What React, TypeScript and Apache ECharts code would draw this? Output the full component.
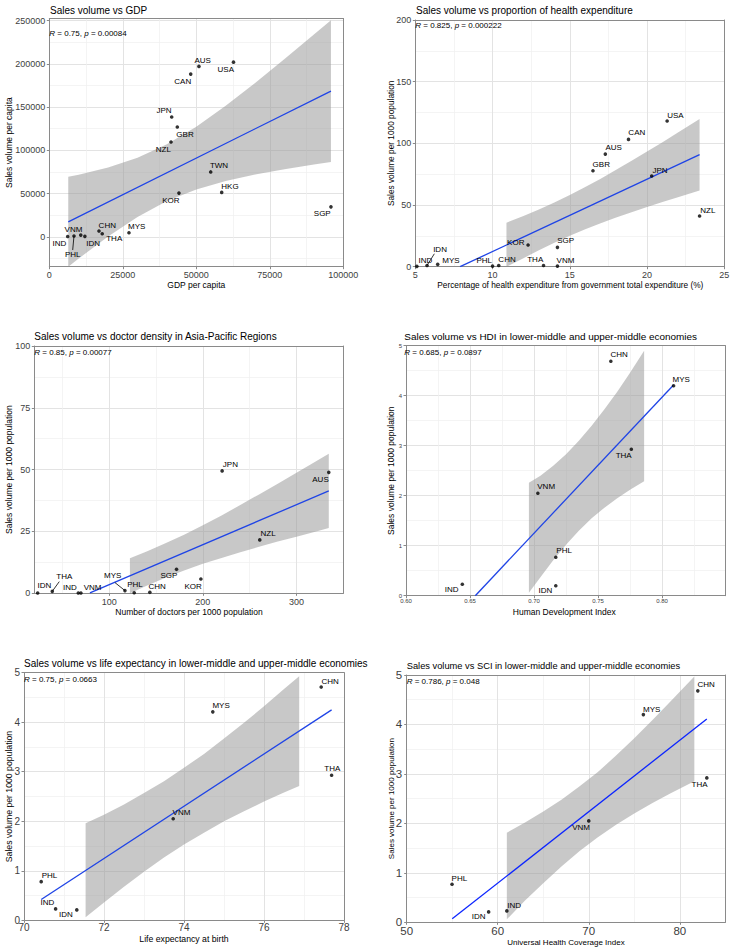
import React, { useEffect, useRef } from 'react';
import * as echarts from 'echarts';

const FONT = '"Liberation Sans", Arial, Helvetica, sans-serif';

// ---------- Panel 1: Sales volume vs GDP ----------
const p1Countries = ['AUS', 'USA', 'CAN', 'JPN', 'GBR', 'NZL', 'TWN', 'HKG', 'KOR', 'SGP', 'MYS', 'CHN', 'THA', 'IDN', 'IND', 'PHL', 'VNM'];
const p1Gdp = [50900, 62650, 48100, 41630, 43540, 41400, 54900, 58640, 44100, 95800, 27100, 16900, 18000, 12100, 6250, 8400, 10700];
const p1Sales = [197100, 202000, 188200, 138600, 127000, 109700, 75000, 51300, 50500, 34600, 4600, 6600, 3500, 500, 300, 900, 1900];
const p1FitX = [6450, 95800];
const p1FitY = [17300, 168600];
const p1BandX = [6450, 10000, 20000, 30000, 40000, 50000, 60000, 70000, 80000, 90000, 95800];
const p1BandLow = [-34700, -25200, 400, 23000, 41300, 54700, 64400, 71900, 78100, 83600, 86600];
const p1BandHigh = [69300, 71800, 80100, 91300, 106900, 127400, 151500, 178000, 205600, 234000, 250600];
const p1XTicks = [0, 25000, 50000, 75000, 100000];
const p1XMinor = [12500, 37500, 62500, 87500];
const p1YTicks = [0, 50000, 100000, 150000, 200000, 250000];
const p1YMinor = [-25000, 25000, 75000, 125000, 175000, 225000];

// ---------- Panel 2: Sales volume vs proportion of health expenditure ----------
const p2Countries = ['USA', 'CAN', 'AUS', 'GBR', 'JPN', 'NZL', 'SGP', 'KOR', 'IDN', 'IND', 'MYS', 'PHL', 'CHN', 'THA', 'VNM'];
const p2Share = [21.3, 18.8, 17.3, 16.5, 20.3, 23.4, 14.2, 12.3, 5.76, 5.1, 6.45, 10.0, 10.4, 13.3, 14.2];
const p2Sales = [118.1, 103.2, 91.3, 77.8, 73.5, 41.1, 15.7, 17.6, 1.0, 0.3, 1.9, 0.5, 1.0, 1.0, 0.5];
const p2FitX = [7.9, 23.4];
const p2FitY = [0, 90.8];
const p2BandX = [10.9, 12, 13, 14, 15, 16, 17, 18, 19, 20, 21, 22, 23.4];
const p2BandLow = [0, 6.9, 13.4, 19.4, 25.0, 30.3, 35.2, 39.9, 44.2, 48.5, 52.5, 56.4, 61.8];
const p2BandHigh = [35.7, 41.1, 46.4, 52.1, 58.2, 64.6, 71.4, 78.5, 85.8, 93.3, 100.9, 108.8, 119.8];
const p2XTicks = [5, 10, 15, 20, 25];
const p2XMinor = [7.5, 12.5, 17.5, 22.5];
const p2YTicks = [0, 50, 100, 150, 200];
const p2YMinor = [25, 75, 125, 175];

// ---------- Panel 3: Sales volume vs doctor density ----------
const p3Countries = ['JPN', 'AUS', 'NZL', 'SGP', 'KOR', 'CHN', 'PHL', 'MYS', 'VNM', 'IND', 'THA', 'IDN'];
const p3Doctors = [220.6, 334.5, 260.8, 171.9, 197.9, 143.4, 126.7, 116.8, 69.8, 67.0, 39.2, 23.6];
const p3Sales = [49.5, 48.9, 21.6, 9.7, 5.8, 0.4, 0.2, 1.1, 0.1, 0.1, 0.8, 0.1];
const p3FitX = [79.4, 334.5];
const p3FitY = [0.2, 41.4];
const p3BandX = [122.1, 140, 160, 180, 200, 220, 240, 260, 280, 300, 320, 334.5];
const p3BandLow = [0, 3.1, 6.3, 9.2, 11.9, 14.3, 16.6, 18.8, 20.9, 22.9, 24.9, 26.4];
const p3BandHigh = [14.2, 16.9, 20.2, 23.7, 27.5, 31.5, 35.7, 40.0, 44.3, 48.7, 53.2, 56.4];
const p3XTicks = [100, 200, 300];
const p3XMinor = [50, 150, 250];
const p3YTicks = [0, 25, 50, 75, 100];
const p3YMinor = [12.5, 37.5, 62.5, 87.5];

// ---------- Panel 4: Sales volume vs HDI ----------
const p4Countries = ['CHN', 'MYS', 'THA', 'VNM', 'PHL', 'IDN', 'IND'];
const p4Hdi = [0.760, 0.809, 0.776, 0.703, 0.717, 0.717, 0.644];
const p4Sales = [4.69, 4.20, 2.93, 2.05, 0.77, 0.20, 0.23];
const p4FitX = [0.6541, 0.8088];
const p4FitY = [0, 4.21];
const p4BandX = [0.696, 0.705, 0.715, 0.725, 0.735, 0.745, 0.755, 0.765, 0.775, 0.786];
const p4BandLow = [0.06, 0.37, 0.71, 1.02, 1.30, 1.55, 1.76, 1.95, 2.12, 2.29];
const p4BandHigh = [2.26, 2.40, 2.60, 2.83, 3.10, 3.40, 3.73, 4.08, 4.46, 4.90];
const p4XTicks = [0.6, 0.65, 0.7, 0.75, 0.8];
const p4XMinor = [0.625, 0.675, 0.725, 0.775, 0.825];
const yTicks05 = [0, 1, 2, 3, 4, 5];
const yMinor05 = [0.5, 1.5, 2.5, 3.5, 4.5];

// ---------- Panel 5: Sales volume vs life expectancy ----------
const p5Countries = ['CHN', 'MYS', 'THA', 'VNM', 'PHL', 'IND', 'IDN'];
const p5Life = [77.43, 74.72, 77.69, 73.73, 70.43, 70.79, 71.32];
const p5Sales = [4.71, 4.21, 2.93, 2.05, 0.78, 0.23, 0.21];
const p5FitX = [70.43, 77.69];
const p5FitY = [0.42, 4.25];
const p5BandX = [71.54, 72, 72.5, 73, 73.5, 74, 74.5, 75, 75.5, 76, 76.5, 76.88];
const p5BandLow = [0.06, 0.36, 0.68, 0.98, 1.27, 1.53, 1.77, 2.00, 2.20, 2.40, 2.58, 2.71];
const p5BandHigh = [1.96, 2.13, 2.34, 2.57, 2.81, 3.08, 3.36, 3.67, 3.99, 4.32, 4.67, 4.93];
const p5XTicks = [70, 72, 74, 76, 78];
const p5XMinor = [71, 73, 75, 77];

// ---------- Panel 6: Sales volume vs SCI ----------
const p6Countries = ['CHN', 'MYS', 'THA', 'VNM', 'PHL', 'IDN', 'IND'];
const p6Uhc = [81.98, 76.0, 82.97, 70.0, 54.98, 59.0, 61.0];
const p6Sales = [4.68, 4.20, 2.92, 2.05, 0.77, 0.21, 0.23];
const p6FitX = [55.0, 82.97];
const p6FitY = [0.07, 4.11];
const p6BandX = [61, 63, 65, 67, 69, 71, 73, 75, 77, 79, 81.6];
const p6BandLow = [0.06, 0.44, 0.79, 1.13, 1.44, 1.72, 1.97, 2.20, 2.41, 2.61, 2.85];
const p6BandHigh = [1.81, 2.02, 2.24, 2.48, 2.75, 3.04, 3.37, 3.72, 4.09, 4.47, 4.97];
const p6XTicks = [50, 60, 70, 80];
const p6XMinor = [55, 65, 75];

// ---------- Layout (pixels) ----------
const panels = [
  {
    title: 'Sales volume vs GDP', titlePos: [50, 10], titleSize: 10,
    r: '0.75', p: '0.00084', statPos: [49.3, 33], statSize: 8,
    xName: 'GDP per capita', xNamePos: [196.3, 285], yName: 'Sales volume per capita', yNameX: 9, nameSize: 8.5,
    grid: [49.3, 18.5, 294, 248.2], xr: [0, 100000], yr: [-34640, 252540],
    xTicks: p1XTicks, xMinor: p1XMinor, yTicks: p1YTicks, yMinor: p1YMinor,
    tickSize: 9, xMargin: 4, yMargin: 4, xFmt: (v: number) => String(v),
    countries: p1Countries, xs: p1Gdp, ys: p1Sales,
    offsets: [[3.7, -6], [-7.7, 7.7], [-8, 7], [-7.7, -6.7], [7.7, 7.3], [-7.7, 7.3], [8.3, -6.7], [8.3, -6.3], [-8, 7], [-8.7, 6.7], [7.7, -6], [8.3, -5.7], [12, 4.7], [8.3, 6.7], [-8.3, 6.7], [-1.3, 19], [-7.3, -6]],
    segments: { PHL: [-1.3, 14] } as Record<string, number[]>,
    fitX: p1FitX, fitY: p1FitY, bandX: p1BandX, bandLow: p1BandLow, bandHigh: p1BandHigh, lineColor: '#1f44e6',
  },
  {
    title: 'Sales volume vs proportion of health expenditure', titlePos: [416, 10], titleSize: 10,
    r: '0.825', p: '0.000222', statPos: [415.3, 25.7], statSize: 8,
    xName: 'Percentage of health expenditure from government total expenditure (%)', xNamePos: [570.3, 285],
    yName: 'Sales volume per 1000 population', yNameX: 391, nameSize: 8.3,
    grid: [415.3, 20, 309, 246.7], xr: [5, 25], yr: [0, 200],
    xTicks: p2XTicks, xMinor: p2XMinor, yTicks: p2YTicks, yMinor: p2YMinor,
    tickSize: 9, xMargin: 4, yMargin: 4, xFmt: (v: number) => String(v),
    countries: p2Countries, xs: p2Share, ys: p2Sales,
    offsets: [[8.3, -6], [8.3, -6.7], [8.3, -6.3], [8.3, -6.3], [8.3, -6], [8.3, -6], [8.3, -6.7], [-12.3, -2.7], [13, -16.3], [8.5, -6.3], [13.3, -4.3], [-8.3, -6], [8.3, -6], [-8.3, -6], [8, -6]],
    segments: { IDN: [7.3, -11.7] } as Record<string, number[]>,
    fitX: p2FitX, fitY: p2FitY, bandX: p2BandX, bandLow: p2BandLow, bandHigh: p2BandHigh, lineColor: '#1f44e6',
  },
  {
    title: 'Sales volume vs doctor density in Asia-Pacific Regions', titlePos: [34.3, 336], titleSize: 10,
    r: '0.85', p: '0.00077', statPos: [34.3, 352.3], statSize: 8,
    xName: 'Number of doctors per 1000 population', xNamePos: [189, 611.7],
    yName: 'Sales volume per 1000 population', yNameX: 9, nameSize: 8.5,
    grid: [34.3, 346, 309, 247.3], xr: [20, 350], yr: [0, 100],
    xTicks: p3XTicks, xMinor: p3XMinor, yTicks: p3YTicks, yMinor: p3YMinor,
    tickSize: 9, xMargin: 4, yMargin: 4, xFmt: (v: number) => String(v),
    countries: p3Countries, xs: p3Doctors, ys: p3Sales,
    offsets: [[8.3, -6], [-8.3, 7], [8.3, -6], [-7.7, 6.3], [-7.7, 7.7], [7.3, -5.7], [0.7, -8], [-12.3, -14.7], [11.7, -6], [-8.3, -6], [12, -15.3], [6.7, -7.3]],
    segments: { MYS: [-10, -8], THA: [7, -9.7] } as Record<string, number[]>,
    fitX: p3FitX, fitY: p3FitY, bandX: p3BandX, bandLow: p3BandLow, bandHigh: p3BandHigh, lineColor: '#1f44e6',
  },
  {
    title: 'Sales volume vs HDI in lower-middle and upper-middle economies', titlePos: [404.3, 336.5], titleSize: 9.95,
    r: '0.685', p: '0.0897', statPos: [404.3, 352.7], statSize: 8,
    xName: 'Human Development Index', xNamePos: [564.3, 612],
    yName: 'Sales volume per 1000 population', yNameX: 391, nameSize: 8.5,
    grid: [406, 345.7, 319.3, 250], xr: [0.6, 0.8494], yr: [0, 5],
    xTicks: p4XTicks, xMinor: p4XMinor, yTicks: yTicks05, yMinor: yMinor05,
    tickSize: 6, xMargin: 2.5, yMargin: 4, xFmt: (v: number) => v.toFixed(2),
    countries: p4Countries, xs: p4Hdi, ys: p4Sales,
    offsets: [[8.3, -6.7], [7.7, -6.3], [-7.7, 6.7], [8.3, -6.7], [8.3, -6.3], [-10.3, 4.3], [-10.7, 5.7]],
    segments: {} as Record<string, number[]>,
    fitX: p4FitX, fitY: p4FitY, bandX: p4BandX, bandLow: p4BandLow, bandHigh: p4BandHigh, lineColor: '#1f44e6',
  },
  {
    title: 'Sales volume vs life expectancy in lower-middle and upper-middle economies', titlePos: [24, 663], titleSize: 10,
    r: '0.75', p: '0.0663', statPos: [24, 679], statSize: 8,
    xName: 'Life expectancy at birth', xNamePos: [184, 938.5],
    yName: 'Sales volume per 1000 population', yNameX: 9, nameSize: 8.7,
    grid: [24, 672.7, 320, 247.6], xr: [70, 78], yr: [0, 5],
    xTicks: p5XTicks, xMinor: p5XMinor, yTicks: yTicks05, yMinor: yMinor05,
    tickSize: 10, xMargin: 2.5, yMargin: 4, xFmt: (v: number) => String(v),
    countries: p5Countries, xs: p5Life, ys: p5Sales,
    offsets: [[9, -5.7], [8.3, -6], [0.7, -6.3], [8.3, -6.3], [8.3, -5.7], [-8.3, -6.3], [-11, 5]],
    segments: {} as Record<string, number[]>,
    fitX: p5FitX, fitY: p5FitY, bandX: p5BandX, bandLow: p5BandLow, bandHigh: p5BandHigh, lineColor: '#1f44e6',
  },
  {
    title: 'Sales volume vs SCI in lower-middle and upper-middle economies', titlePos: [406.7, 666], titleSize: 9.3,
    r: '0.786', p: '0.048', statPos: [406.7, 681.7], statSize: 8,
    xName: 'Universal Health Coverage Index', xNamePos: [566, 942],
    yName: 'Sales volume per 1000 population', yNameX: 391, nameSize: 8,
    grid: [406.7, 675, 318.6, 247.3], xr: [50, 85], yr: [0, 5],
    xTicks: p6XTicks, xMinor: p6XMinor, yTicks: yTicks05, yMinor: yMinor05,
    tickSize: 11.5, xMargin: 2.5, yMargin: 4.5, xFmt: (v: number) => String(v),
    countries: p6Countries, xs: p6Uhc, ys: p6Sales,
    offsets: [[8.3, -6.3], [8.3, -5.3], [-7.3, 6.3], [-7.7, 6.3], [7.3, -5.7], [-10, 4.7], [7.3, -5.3]],
    segments: {} as Record<string, number[]>,
    fitX: p6FitX, fitY: p6FitY, bandX: p6BandX, bandLow: p6BandLow, bandHigh: p6BandHigh, lineColor: '#0b24ff',
  },
];

const BORDER = '#8a8a8a';
const MAJOR = '#e3e3e3';
const MINOR = '#efefef';
const TICKTXT = '#404040';

function buildOption() {
  const grid: any[] = [];
  const xAxis: any[] = [];
  const yAxis: any[] = [];
  const series: any[] = [];
  const graphic: any[] = [];

  panels.forEach((p, i) => {
    grid.push({ left: p.grid[0], top: p.grid[1], width: p.grid[2], height: p.grid[3], containLabel: false, outerBoundsMode: 'none' });
    xAxis.push({
      gridIndex: i, type: 'value', min: p.xr[0], max: p.xr[1], position: 'bottom',
      axisLine: { show: true, onZero: false, lineStyle: { color: BORDER, width: 1 } },
      axisTick: { show: true, length: 2.5, lineStyle: { color: BORDER }, customValues: p.xTicks },
      axisLabel: { show: true, customValues: p.xTicks, fontSize: p.tickSize, color: TICKTXT, fontFamily: FONT, margin: p.xMargin, formatter: p.xFmt },
      splitLine: { show: true, lineStyle: { color: MAJOR, width: 1 } },
    });
    xAxis.push({
      gridIndex: i, type: 'value', min: p.xr[0], max: p.xr[1], position: 'top',
      axisLine: { show: true, onZero: false, lineStyle: { color: BORDER, width: 1 } },
      axisTick: { show: false, customValues: p.xMinor },
      axisLabel: { show: false },
      splitLine: { show: true, lineStyle: { color: MINOR, width: 0.7 } },
    });
    yAxis.push({
      gridIndex: i, type: 'value', min: p.yr[0], max: p.yr[1], position: 'left',
      axisLine: { show: true, onZero: false, lineStyle: { color: BORDER, width: 1 } },
      axisTick: { show: true, length: 2.5, lineStyle: { color: BORDER }, customValues: p.yTicks },
      axisLabel: { show: true, customValues: p.yTicks, fontSize: p.tickSize, color: TICKTXT, fontFamily: FONT, margin: p.yMargin, formatter: (v: number) => String(v) },
      splitLine: { show: true, lineStyle: { color: MAJOR, width: 1 } },
    });
    yAxis.push({
      gridIndex: i, type: 'value', min: p.yr[0], max: p.yr[1], position: 'right',
      axisLine: { show: true, onZero: false, lineStyle: { color: BORDER, width: 1 } },
      axisTick: { show: false, customValues: p.yMinor },
      axisLabel: { show: false },
      splitLine: { show: true, lineStyle: { color: MINOR, width: 0.7 } },
    });

    const xi = 2 * i;
    series.push({
      type: 'custom', xAxisIndex: xi, yAxisIndex: xi, clip: true, z: 1, silent: true,
      data: [[p.bandX[0], p.bandLow[0]]],
      renderItem: (params: any, api: any) => {
        const pts: number[][] = [];
        for (let k = 0; k < p.bandX.length; k++) pts.push(api.coord([p.bandX[k], p.bandHigh[k]]));
        for (let k = p.bandX.length - 1; k >= 0; k--) pts.push(api.coord([p.bandX[k], p.bandLow[k]]));
        const cs = params.coordSys;
        return {
          type: 'group',
          clipPath: { type: 'rect', shape: { x: cs.x, y: cs.y, width: cs.width, height: cs.height } },
          children: [{ type: 'polygon', shape: { points: pts }, style: { fill: 'rgba(150,150,150,0.52)', stroke: 'none' } }],
        };
      },
    });
    series.push({
      type: 'line', xAxisIndex: xi, yAxisIndex: xi, z: 2, showSymbol: false, silent: true, clip: true,
      data: p.fitX.map((x, k) => [x, p.fitY[k]]),
      lineStyle: { color: p.lineColor, width: 1.3 },
    });
    series.push({
      type: 'scatter', xAxisIndex: xi, yAxisIndex: xi, z: 3, symbolSize: 3.6, silent: true,
      itemStyle: { color: '#000' },
      label: { show: false },
      data: p.countries.map((c, k) => ({ name: c, value: [p.xs[k], p.ys[k]] })),
    });

    graphic.push({
      type: 'text', x: p.titlePos[0], y: p.titlePos[1], z: 20,
      style: { text: p.title, fontSize: p.titleSize, fontFamily: FONT, fill: '#000', align: 'left', verticalAlign: 'middle', textAlign: 'left', textVerticalAlign: 'middle' },
    });
    graphic.push({
      type: 'text', x: p.statPos[0], y: p.statPos[1], z: 20,
      style: {
        text: `{i|R} = ${p.r}, {i|p} = ${p.p}`, fontSize: p.statSize, fontFamily: FONT, fill: '#000',
        align: 'left', verticalAlign: 'middle', textAlign: 'left', textVerticalAlign: 'middle',
        rich: { i: { fontStyle: 'italic', fontSize: p.statSize, fontFamily: FONT, fill: '#000' } },
      },
    });
    graphic.push({
      type: 'text', x: p.xNamePos[0], y: p.xNamePos[1], z: 20,
      style: { text: p.xName, fontSize: p.nameSize, fontFamily: FONT, fill: '#000', align: 'center', verticalAlign: 'middle', textAlign: 'center', textVerticalAlign: 'middle' },
    });
    graphic.push({
      type: 'text', x: p.yNameX, y: p.grid[1] + p.grid[3] / 2, rotation: Math.PI / 2, z: 20,
      style: { text: p.yName, fontSize: p.nameSize, fontFamily: FONT, fill: '#000', align: 'center', verticalAlign: 'middle', textAlign: 'center', textVerticalAlign: 'middle' },
    });
  });

  return { animation: false, backgroundColor: '#fff', grid, xAxis, yAxis, series, graphic };
}

export default function App() {
  const ref = useRef<HTMLDivElement>(null);
  useEffect(() => {
    if (!ref.current) return;
    const chart = echarts.init(ref.current, null, { renderer: 'svg' });
    const option: any = buildOption();
    chart.setOption(option);
    const extra: any[] = [];
    panels.forEach((p, i) => {
      p.countries.forEach((c, k) => {
        const pt = chart.convertToPixel({ seriesIndex: 3 * i + 2 }, [p.xs[k], p.ys[k]]) as number[];
        if (!pt) return;
        const off = p.offsets[k];
        extra.push({
          type: 'text', x: pt[0] + off[0], y: pt[1] + off[1], z: 16, silent: true,
          style: { text: c, fontSize: 8, fontFamily: FONT, fill: '#000', align: 'center', verticalAlign: 'middle', textAlign: 'center', textVerticalAlign: 'middle' },
        });
        const s = p.segments[c];
        if (s) {
          extra.push({
            type: 'line', z: 15, silent: true,
            shape: { x1: pt[0], y1: pt[1], x2: pt[0] + s[0], y2: pt[1] + s[1] },
            style: { stroke: '#000', lineWidth: 0.8 },
          });
        }
      });
    });
    chart.setOption({ graphic: option.graphic.concat(extra) });
    return () => chart.dispose();
  }, []);
  return <div ref={ref} style={{ position: 'fixed', left: 0, top: 0, width: 733, height: 950, background: '#fff' }} />;
}
